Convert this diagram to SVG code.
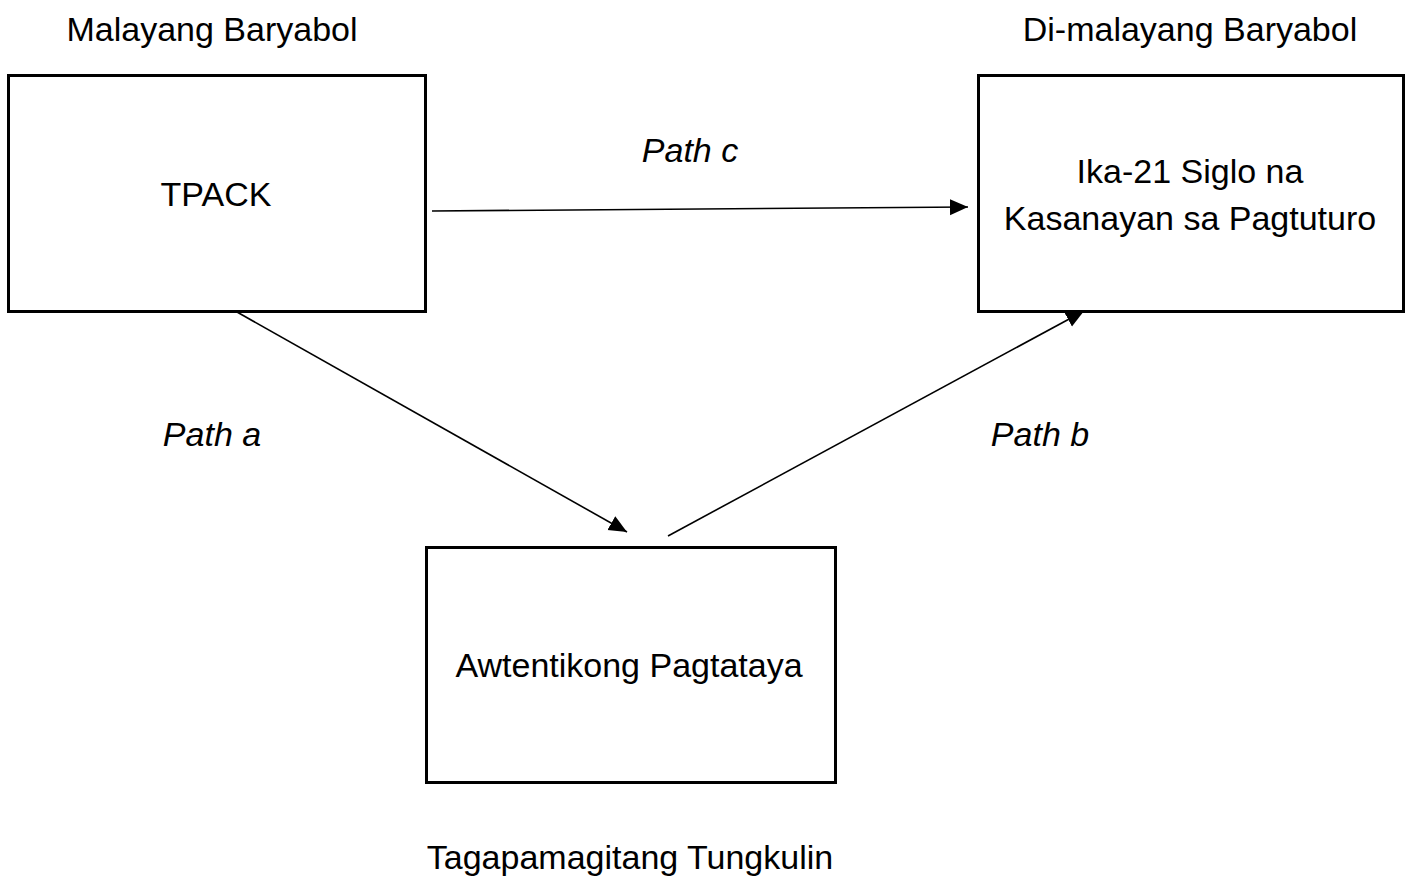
<svg xmlns="http://www.w3.org/2000/svg" width="1412" height="877" viewBox="0 0 1412 877">
<style>
.box{fill:#fff;stroke:#000;stroke-width:3}
.t{font-family:"Liberation Sans",Arial,sans-serif;font-size:34px;fill:#000;text-anchor:middle}
.i{font-style:italic}
.c{stroke:#000;stroke-width:1.6;fill:none;marker-end:url(#ah)}
</style>
<defs>
<marker id="ah" markerUnits="userSpaceOnUse" markerWidth="20" markerHeight="20" viewBox="0 0 20 20" refX="18" refY="10" orient="auto">
<path d="M0,2 L18,10 L0,18 Z" fill="#000"/>
</marker>
</defs>
<rect width="1412" height="877" fill="#fff"/>
<text class="t" x="212" y="41">Malayang Baryabol</text>
<text class="t" x="1190" y="41">Di-malayang Baryabol</text>
<text class="t" x="630" y="869">Tagapamagitang Tungkulin</text>
<g id="connectors">
<line class="c" x1="432" y1="211" x2="968" y2="207"/>
<line class="c" x1="237" y1="312" x2="627" y2="532"/>
<line class="c" x1="668" y1="536" x2="1084" y2="311"/>
<text class="t i" x="690" y="162">Path c</text>
<text class="t i" x="212" y="446">Path a</text>
<text class="t i" x="1040" y="446">Path b</text>
</g>
<g id="tpack">
<rect class="box" x="8.5" y="75.5" width="417" height="236"/>
<text class="t" x="216" y="206">TPACK</text>
</g>
<g id="siglo">
<rect class="box" x="978.5" y="75.5" width="425" height="236"/>
<text class="t" x="1190" y="183">Ika-21 Siglo na</text>
<text class="t" x="1190" y="230">Kasanayan sa Pagtuturo</text>
</g>
<g id="awtentiko">
<rect class="box" x="426.5" y="547.5" width="409" height="235"/>
<text class="t" x="629" y="677">Awtentikong Pagtataya</text>
</g>
</svg>
